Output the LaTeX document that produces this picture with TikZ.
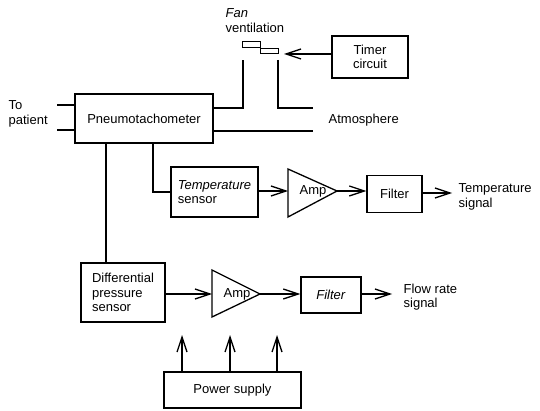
\documentclass[tikz,border=0pt]{standalone}
\usepackage{fontspec}
\setmainfont{Liberation Sans}
\usetikzlibrary{arrows.meta}
\begin{document}
\begin{tikzpicture}[x=1pt,y=-1pt,
  line width=1.3pt,
  every node/.style={font=\fontsize{13}{14.5}\selectfont},
  blockbox/.style={draw,rectangle,inner sep=2pt},
  lbl/.style={inner sep=0pt,align=left,anchor=west},
  arr/.style={-{Straight Barb[length=15pt,width=10pt]}}]
\useasboundingbox (0,0) rectangle (540,411);
% blocks
\node[blockbox,minimum width=138pt,minimum height=49pt] (pneumo) at (144,118.5) {Pneumotachometer};
\node[blockbox,minimum width=76pt,minimum height=42pt,align=center] (timer) at (370,57) {Timer\\circuit};
\node[blockbox,minimum width=87pt,minimum height=50pt,align=left] (temp) at (214.5,192) {\textit{Temperature}\\sensor};
\node[blockbox,minimum width=55pt,minimum height=37pt] (filter1) at (394.5,194) {Filter};
\node[blockbox,minimum width=84pt,minimum height=59pt,align=left] (diff) at (123,292.5) {Differential\\pressure\\sensor};
\node[blockbox,minimum width=60pt,minimum height=36pt] (filter2) at (331,295) {\textit{Filter}};
\node[blockbox,minimum width=137pt,minimum height=36pt] (power) at (232.5,390) {Power supply};
% amplifiers
\coordinate (amp1in) at (288,191);
\coordinate (amp1out) at (337,191);
\draw (288,169) -- (amp1out) -- (288,217) -- cycle;
\node[inner sep=0pt] (amp1) at (313,191) {Amp};
\coordinate (amp2in) at (212,294);
\coordinate (amp2out) at (260,294);
\draw (212,270) -- (amp2out) -- (212,317) -- cycle;
\node[inner sep=0pt] (amp2) at (237,294) {Amp};
% fan flaps
\draw[line width=1pt] (242,42) rectangle (260,48);
\draw[line width=1pt] (260,49) rectangle (278,54);
\coordinate (fantip) at (284,54);
% labels
\node[lbl] (fanlbl) at (225,20.5) {\textit{Fan}\\ventilation};
\node[lbl] (patient) at (8,114) {To\\patient};
\node[lbl] (atmos) at (328,120) {Atmosphere};
\node[lbl] (tsig) at (458,197) {Temperature\\signal};
\node[lbl] (fsig) at (403,297) {Flow rate\\signal};
% tubes
\coordinate (tubeL) at (243,60);
\coordinate (tubeR) at (278,60);
\coordinate (atmU) at (313,108);
\coordinate (atmL) at (313,131);
\coordinate (patU) at (57,105);
\coordinate (patL) at (57,130);
\draw (pneumo.east |- 0,108) -| (tubeL);
\draw (tubeR) |- (atmU);
\draw (pneumo.east |- atmL) -- (atmL);
\draw (patU) -- (pneumo.west |- patU);
\draw (patL) -- (pneumo.west |- patL);
% timer
\draw[arr] (timer.west |- fantip) -- (fantip);
% sensor branches
\coordinate (tb) at (153,0);
\coordinate (db) at (106,0);
\draw (pneumo.south -| tb) |- (temp.west);
\draw (pneumo.south -| db) -- (diff.north -| db);
% temperature chain
\draw[arr] (temp.east |- amp1in) -- (amp1in);
\draw[arr] (amp1out) -- (amp1out -| filter1.west);
\draw[arr] (filter1.east |- 0,193) -- (452,193);
% flow chain
\draw[arr] (diff.east |- amp2in) -- (amp2in);
\draw[arr] (amp2out) -- (amp2out -| filter2.west);
\draw[arr] (filter2.east |- 0,294) -- (392,294);
% power
\coordinate (p1) at (182,335);
\coordinate (p2) at (230,335);
\coordinate (p3) at (277,335);
\draw[arr] (power.north -| p1) -- (p1);
\draw[arr] (power.north -| p2) -- (p2);
\draw[arr] (power.north -| p3) -- (p3);
\end{tikzpicture}
\end{document}
